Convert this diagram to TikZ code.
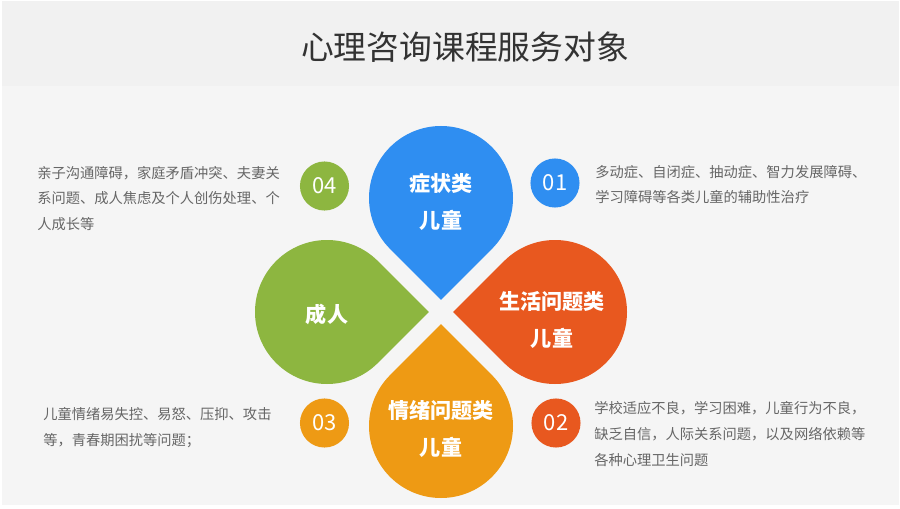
\documentclass[tikz,border=0pt]{standalone}
\usepackage{fontspec}
\setmainfont{Noto Sans CJK SC}
\usetikzlibrary{calc}
\definecolor{bgtitle}{HTML}{F1F1F1}
\definecolor{bgmain}{HTML}{F5F5F5}
\definecolor{cblue}{HTML}{2F8EF1}
\definecolor{cgreen}{HTML}{8DB640}
\definecolor{cred}{HTML}{E8581F}
\definecolor{corange}{HTML}{EE9A14}
\definecolor{txtgray}{HTML}{666666}
\definecolor{titlegray}{HTML}{333333}
\tikzset{
  droplabel/.style={text=white,font=\fontsize{15.8}{27.8}\selectfont\bfseries,align=center,inner sep=0pt},
  numdot/.style={circle,minimum size=36.8pt,inner sep=0pt,text=white,font=\fontsize{16.5}{16.5}\selectfont},
  sidetext/.style={text=txtgray,font=\fontsize{10.7}{19.3}\selectfont,align=left,inner sep=0pt,anchor=west},
}
\begin{document}
\begin{tikzpicture}[x=0.75pt,y=0.75pt]
\useasboundingbox (0,0) rectangle (900,508);
\fill[white] (0,0) rectangle (900,508);
\fill[bgmain] (2,3) rectangle (899,507);
\fill[bgtitle] (2,422) rectangle (899,507);
\node[text=titlegray,font=\fontsize{24.6}{24.6}\selectfont,inner sep=0pt] (title) at (465,461) {心理咨询课程服务对象};
% drop centres
\coordinate (cB) at (441,310);
\coordinate (cG) at (327,196);
\coordinate (cR) at (555,196);
\coordinate (cO) at (441,82);
\fill[cblue]   ($(cB)+(-90:101.8)$) -- ($(cB)+(-45:72)$) arc[start angle=-45,end angle=225,radius=72] -- cycle;
\fill[cgreen]  ($(cG)+(0:101.8)$) -- ($(cG)+(45:72)$) arc[start angle=45,end angle=315,radius=72] -- cycle;
\fill[cred]    ($(cR)+(180:101.8)$) -- ($(cR)+(225:72)$) arc[start angle=225,end angle=495,radius=72] -- cycle;
\fill[corange] ($(cO)+(90:101.8)$) -- ($(cO)+(135:72)$) arc[start angle=135,end angle=405,radius=72] -- cycle;
\node[droplabel] (lB) at (441,306) {症状类\\儿童};
\node[droplabel] (lG) at (327,194) {成人};
\node[droplabel] (lR) at (552,188) {生活问题类\\儿童};
\node[droplabel] (lO) at (441,79) {情绪问题类\\儿童};
% number dots
\node[numdot,fill=cgreen]  (n4) at (324.5,322) {04};
\node[numdot,fill=cblue]   (n1) at (555,325) {01};
\node[numdot,fill=corange] (n3) at (324.5,85) {03};
\node[numdot,fill=cred]    (n2) at (556,85) {02};
% side texts
\node[sidetext] (t4) at (37,309.5) {亲子沟通障碍，家庭矛盾冲突、夫妻关\\系问题、成人焦虑及个人创伤处理、个\\人成长等};
\node[sidetext] (t1) at (595,323.5) {多动症、自闭症、抽动症、智力发展障碍、\\学习障碍等各类儿童的辅助性治疗};
\node[sidetext] (t3) at (43,80.5) {儿童情绪易失控、易怒、压抑、攻击\\等，青春期困扰等问题；};
\node[sidetext] (t2) at (594,74) {学校适应不良，学习困难，儿童行为不良，\\缺乏自信，人际关系问题，以及网络依赖等\\各种心理卫生问题};
\end{tikzpicture}
\end{document}
